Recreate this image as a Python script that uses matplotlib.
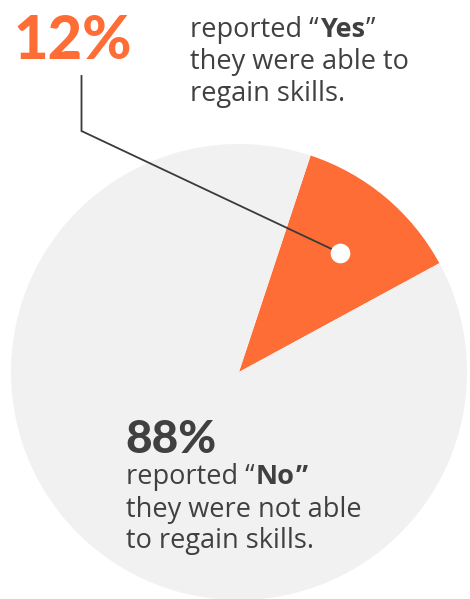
import matplotlib.pyplot as plt

# data
labels = ["Yes", "No"]
shares = [12, 88]
colors = ["#FF6D37", "#F1F1F1"]

TEXT = "#404040"
BODY_FONT = "Open Sans"
W, H = 470, 599


def put_line(ax, x, y, pieces, size):
    """Draw a line made of (text, weight) pieces, one after the other."""
    fig = ax.figure
    r = fig.canvas.get_renderer()
    for s, weight in pieces:
        t = ax.text(x, y, s, fontsize=size, fontweight=weight, color=TEXT,
                    family=BODY_FONT, va="baseline", ha="left")
        bb = t.get_window_extent(renderer=r)
        inv = ax.transData.inverted()
        x0 = inv.transform((bb.x0, bb.y0))[0]
        x1 = inv.transform((bb.x1, bb.y0))[0]
        x = x + (x1 - x0) + 1


def main():
    fig = plt.figure(figsize=(W / 100, H / 100), dpi=100)
    ax = fig.add_axes([0, 0, 1, 1])
    cx, cy, rad = 239, H - 372, 228
    ax.pie(shares, colors=colors, startangle=28.5, counterclock=True,
           center=(cx, cy), radius=rad, wedgeprops=dict(linewidth=0))
    ax.set_xlim(0, W)
    ax.set_ylim(0, H)
    ax.set_aspect("equal")
    ax.axis("off")

    # leader line and dot
    ax.plot([81.5, 81.5, 338], [H - 76, H - 131, H - 252], color="#3a3a3a",
            lw=1.3, solid_joinstyle="miter")
    ax.scatter([340], [H - 253], s=200, color="white", zorder=5, linewidths=0)

    ax.text(14, H - 59, "12%", fontsize=43, fontweight="black", color=colors[0],
            family="Lato", va="baseline")
    fs = 19.5
    put_line(ax, 190, H - 37, [("reported \u201c", "normal"), ("Yes", "bold"),
                               ("\u201d", "normal")], fs)
    put_line(ax, 190, H - 69, [("they were able to", "normal")], fs)
    put_line(ax, 190, H - 101, [("regain skills.", "normal")], fs)

    ax.text(125, H - 453, "88%", fontsize=33, fontweight="black", color=TEXT,
            family="Lato", va="baseline")
    put_line(ax, 126, H - 484, [("reported \u201c", "normal"), ("No", "bold"),
                                ("\u201d", "bold")], fs)
    put_line(ax, 126, H - 517, [("they were not able", "normal")], fs)
    put_line(ax, 126, H - 548, [("to regain skills.", "normal")], fs)

    fig.savefig("out.png", dpi=100)


if __name__ == "__main__":
    main()
